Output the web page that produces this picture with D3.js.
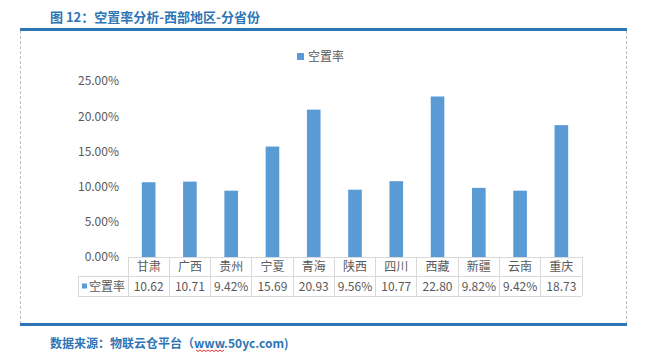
<!DOCTYPE html>
<html>
<head>
<meta charset="utf-8">
<script src="https://cdn.jsdelivr.net/npm/d3@7"></script>
<style>
  body { margin: 0; background: #fff; }
  svg { display: block; font-family: "Noto Sans CJK SC", "Noto Sans", sans-serif; }
</style>
</head>
<body>
<div id="chart"></div>
<script>
// Data
const provinces = ["甘肃", "广西", "贵州", "宁夏", "青海", "陕西", "四川", "西藏", "新疆", "云南", "重庆"];
const vacancy = [10.62, 10.71, 9.42, 15.69, 20.93, 9.56, 10.77, 22.80, 9.82, 9.42, 18.73];
const tableLabels = ["10.62", "10.71", "9.42%", "15.69", "20.93", "9.56%", "10.77", "22.80", "9.82%", "9.42%", "18.73"];
const yTicks = [0, 5, 10, 15, 20, 25];
const seriesName = "空置率";
const titleText = "图 12：空置率分析-西部地区-分省份";
const sourceText = "数据来源：物联云仓平台（www.50yc.com)";

const width = 651, height = 362;
const blue = "#2E75B6", barColor = "#5B9BD5", textColor = "#595959", gridColor = "#D9D9D9";
const plot = { left: 128, right: 582, top: 81, bottom: 257 };

const svg = d3.select("#chart").append("svg")
    .attr("width", width)
    .attr("height", height);

// frame: title, thick blue rules, dashed sides
svg.append("text")
    .attr("x", 50).attr("y", 22)
    .attr("fill", blue)
    .attr("font-size", 13)
    .attr("font-weight", "bold")
    .text(titleText);

[29.5, 324.5].forEach(y => {
    svg.append("line")
        .attr("x1", 20).attr("x2", 627)
        .attr("y1", y).attr("y2", y)
        .attr("stroke", blue).attr("stroke-width", 3);
});
[20.5, 626.5].forEach(x => {
    svg.append("line")
        .attr("x1", x).attr("x2", x)
        .attr("y1", 31).attr("y2", 323)
        .attr("stroke", "#BFBFBF")
        .attr("stroke-dasharray", "3,2");
});

svg.append("text")
    .attr("x", 50).attr("y", 348)
    .attr("fill", blue)
    .attr("font-size", 12)
    .attr("font-weight", "bold")
    .text(sourceText);

// spell-check squiggle under "www"
const sq = d3.range(0, 29, 2).map((d, i) => [196 + d, 350 + (i % 2 ? 1.5 : 0)]);
svg.append("path")
    .attr("d", d3.line()(sq))
    .attr("fill", "none")
    .attr("stroke", "#E00000")
    .attr("stroke-width", 0.8);

// legend
svg.append("rect")
    .attr("x", 297).attr("y", 53)
    .attr("width", 7).attr("height", 7)
    .attr("fill", barColor);
svg.append("text")
    .attr("x", 308).attr("y", 61)
    .attr("fill", textColor)
    .attr("font-size", 12)
    .text(seriesName);

// scales
const x = d3.scaleBand()
    .domain(provinces)
    .range([plot.left, plot.right])
    .paddingInner(0)
    .paddingOuter(0);

const y = d3.scaleLinear()
    .domain([0, 25])
    .range([plot.bottom, plot.top]);

// y axis labels
svg.append("g")
    .attr("transform", `translate(${plot.left - 6},0)`)
    .call(d3.axisLeft(y)
        .tickValues(yTicks)
        .tickSize(0)
        .tickFormat(d => d.toFixed(2) + "%"))
    .call(g => g.select(".domain").remove())
    .call(g => g.selectAll("text")
        .attr("fill", textColor)
        .attr("font-size", 12)
        .attr("font-family", "\"Noto Sans CJK SC\", sans-serif"));

// bars
const barW = x.bandwidth() * 0.33;
svg.append("g")
    .selectAll("rect")
    .data(provinces)
    .join("rect")
    .attr("x", d => x(d) + (x.bandwidth() - barW) / 2)
    .attr("y", (d, i) => y(vacancy[i]))
    .attr("width", barW)
    .attr("height", (d, i) => y(0) - y(vacancy[i]))
    .attr("fill", barColor);

// data table
const row1 = plot.bottom, row2 = plot.bottom + 19.5, row3 = plot.bottom + 39;
const table = svg.append("g")
    .attr("stroke", gridColor)
    .attr("stroke-width", 1)
    .attr("shape-rendering", "crispEdges");

table.append("line").attr("x1", plot.left).attr("x2", plot.right).attr("y1", row1).attr("y2", row1);
table.append("line").attr("x1", 78).attr("x2", plot.right).attr("y1", row2).attr("y2", row2);
table.append("line").attr("x1", 78).attr("x2", plot.right).attr("y1", row3).attr("y2", row3);
table.append("line").attr("x1", 78).attr("x2", 78).attr("y1", row2).attr("y2", row3);
table.selectAll(".v")
    .data(provinces.map(d => x(d)).concat([plot.right]))
    .join("line")
    .attr("x1", d => d).attr("x2", d => d)
    .attr("y1", row1).attr("y2", row3);

svg.append("g")
    .selectAll("text")
    .data(provinces)
    .join("text")
    .attr("x", d => x(d) + x.bandwidth() / 2)
    .attr("y", row1 + 14)
    .attr("text-anchor", "middle")
    .attr("fill", textColor)
    .attr("font-size", 12)
    .text(d => d);

svg.append("g")
    .selectAll("text")
    .data(tableLabels)
    .join("text")
    .attr("x", (d, i) => x(provinces[i]) + x.bandwidth() / 2)
    .attr("y", row2 + 14)
    .attr("text-anchor", "middle")
    .attr("fill", textColor)
    .attr("font-size", 12)
    .text(d => d);

svg.append("rect")
    .attr("x", 82).attr("y", row2 + 7)
    .attr("width", 5).attr("height", 5)
    .attr("fill", barColor);
svg.append("text")
    .attr("x", 89).attr("y", row2 + 14)
    .attr("fill", textColor)
    .attr("font-size", 12)
    .text(seriesName);
</script>
</body>
</html>
